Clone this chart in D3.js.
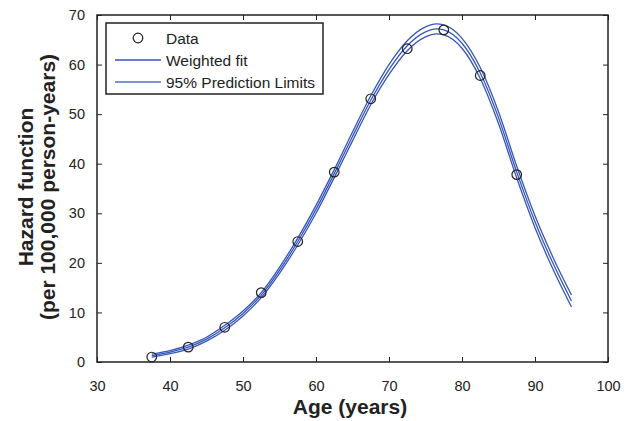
<!DOCTYPE html>
<html>
<head>
<meta charset="utf-8">
<script src="https://cdn.jsdelivr.net/npm/d3@7"></script>
<style>
  body { margin: 0; background: #fff; }
  text { font-family: "Liberation Sans", Arial, sans-serif; fill: #222; }
  .fit { fill: none; stroke: #3656b8; stroke-width: 1.3; }
  .dot { fill: none; stroke: #222; stroke-width: 1.2; }
</style>
</head>
<body>
<div id="chart"></div>
<script>
// observed data points
var ageData = [37.5, 42.5, 47.5, 52.5, 57.5, 62.5, 67.5, 72.5, 77.5, 82.5, 87.5];
var hazardData = [1.0, 3.0, 7.0, 14.0, 24.3, 38.3, 53.1, 63.2, 67.0, 57.8, 37.8];

// weighted fit and prediction limits
var ageFit = [37.5, 40, 42.5, 45, 47.5, 50, 52.5, 55, 57.5, 60, 62.5, 65, 67.5, 70, 72.5, 75, 76.5, 77.5, 80, 82.5, 85, 87.5, 90, 92.5, 95];
var hazardFit = [1.3, 2.0, 3.0, 4.6, 6.9, 9.8, 13.5, 18.5, 24.3, 30.8, 38.0, 45.5, 52.8, 59.0, 63.8, 66.6, 67.2, 67.0, 64.3, 58.3, 49.3, 38.3, 28.3, 19.8, 12.3];
var upperFit = [1.6, 2.3, 3.4, 5.0, 7.4, 10.3, 14.0, 19.1, 25.0, 31.6, 38.8, 46.4, 53.7, 60.0, 64.8, 67.6, 68.2, 68.0, 65.3, 59.4, 50.5, 39.5, 29.5, 21.0, 13.5];
var lowerFit = [1.0, 1.7, 2.6, 4.2, 6.4, 9.3, 13.0, 17.9, 23.6, 30.0, 37.2, 44.6, 51.9, 58.0, 62.8, 65.6, 66.2, 66.0, 63.3, 57.2, 48.1, 37.1, 27.1, 18.6, 11.1];

var xTicks = [30, 40, 50, 60, 70, 80, 90, 100];
var yTicks = [0, 10, 20, 30, 40, 50, 60, 70];
var legendItems = ["Data", "Weighted fit", "95% Prediction Limits"];

var W = 633, H = 421;
var margin = { top: 15, right: 25, bottom: 59, left: 97 },
    width = W - margin.left - margin.right,
    height = H - margin.top - margin.bottom;

var svg = d3.select("#chart").append("svg")
    .attr("width", W)
    .attr("height", H);

var g = svg.append("g")
    .attr("transform", "translate(" + margin.left + "," + margin.top + ")");

var x = d3.scaleLinear().domain([30, 100]).range([0, width]);
var y = d3.scaleLinear().domain([0, 70]).range([height, 0]);

// axes, MATLAB style ticks pointing inwards on all four sides
function styleAxis(sel) {
    sel.select(".domain").remove();
    sel.selectAll(".tick line").attr("stroke", "#222").attr("stroke-width", 1);
    sel.selectAll(".tick text").style("font-size", "14.5px").attr("fill", "#222");
}

g.append("g")
    .attr("transform", "translate(0," + height + ")")
    .call(d3.axisBottom(x).tickValues(xTicks).tickSizeInner(-5).tickSizeOuter(0).tickPadding(19))
    .call(styleAxis);

g.append("g")
    .call(d3.axisTop(x).tickValues(xTicks).tickSizeInner(-5).tickSizeOuter(0).tickFormat(""))
    .call(styleAxis);

g.append("g")
    .call(d3.axisLeft(y).tickValues(yTicks).tickSizeInner(-5).tickSizeOuter(0).tickPadding(12))
    .call(styleAxis);

g.append("g")
    .attr("transform", "translate(" + width + ",0)")
    .call(d3.axisRight(y).tickValues(yTicks).tickSizeInner(-5).tickSizeOuter(0).tickFormat(""))
    .call(styleAxis);

g.append("rect")
    .attr("width", width)
    .attr("height", height)
    .attr("fill", "none")
    .attr("stroke", "#222")
    .attr("stroke-width", 1.5);

// curves
var line = d3.line()
    .x(function (d) { return x(d[0]); })
    .y(function (d) { return y(d[1]); })
    .curve(d3.curveMonotoneX);

[upperFit, hazardFit, lowerFit].forEach(function (vals) {
    g.append("path")
        .datum(ageFit.map(function (a, i) { return [a, vals[i]]; }))
        .attr("class", "fit")
        .attr("d", line);
});

g.selectAll(".dot")
    .data(ageData.map(function (a, i) { return [a, hazardData[i]]; }))
    .enter().append("circle")
    .attr("class", "dot")
    .attr("cx", function (d) { return x(d[0]); })
    .attr("cy", function (d) { return y(d[1]); })
    .attr("r", 4.8);

// axis labels
svg.append("text")
    .attr("x", 350)
    .attr("y", 414)
    .attr("text-anchor", "middle")
    .style("font-size", "21px")
    .style("font-weight", "bold")
    .text("Age (years)");

var yl = svg.append("text")
    .attr("transform", "translate(0,187) rotate(-90)")
    .attr("text-anchor", "middle")
    .style("font-size", "21px")
    .style("font-weight", "bold");
yl.append("tspan").attr("x", 0).attr("y", 33).text("Hazard function");
yl.append("tspan").attr("x", 0).attr("y", 55).text("(per 100,000 person-years)");

// legend
var lg = svg.append("g").attr("transform", "translate(106,23)");
lg.append("rect")
    .attr("width", 217)
    .attr("height", 71)
    .attr("fill", "#fff")
    .attr("stroke", "#222")
    .attr("stroke-width", 1.5);

legendItems.forEach(function (name, i) {
    var ly = 15 + i * 22;
    if (i === 0) {
        lg.append("circle").attr("class", "dot").attr("cx", 32).attr("cy", ly).attr("r", 4.8);
    } else {
        lg.append("line")
            .attr("x1", 9).attr("x2", 55)
            .attr("y1", ly).attr("y2", ly)
            .attr("stroke", i === 1 ? "#3656b8" : "#5070c8")
            .attr("stroke-width", 1.3);
    }
    lg.append("text")
        .attr("x", 60)
        .attr("y", ly + 5.5)
        .style("font-size", "15.5px")
        .text(name);
});
</script>
</body>
</html>
